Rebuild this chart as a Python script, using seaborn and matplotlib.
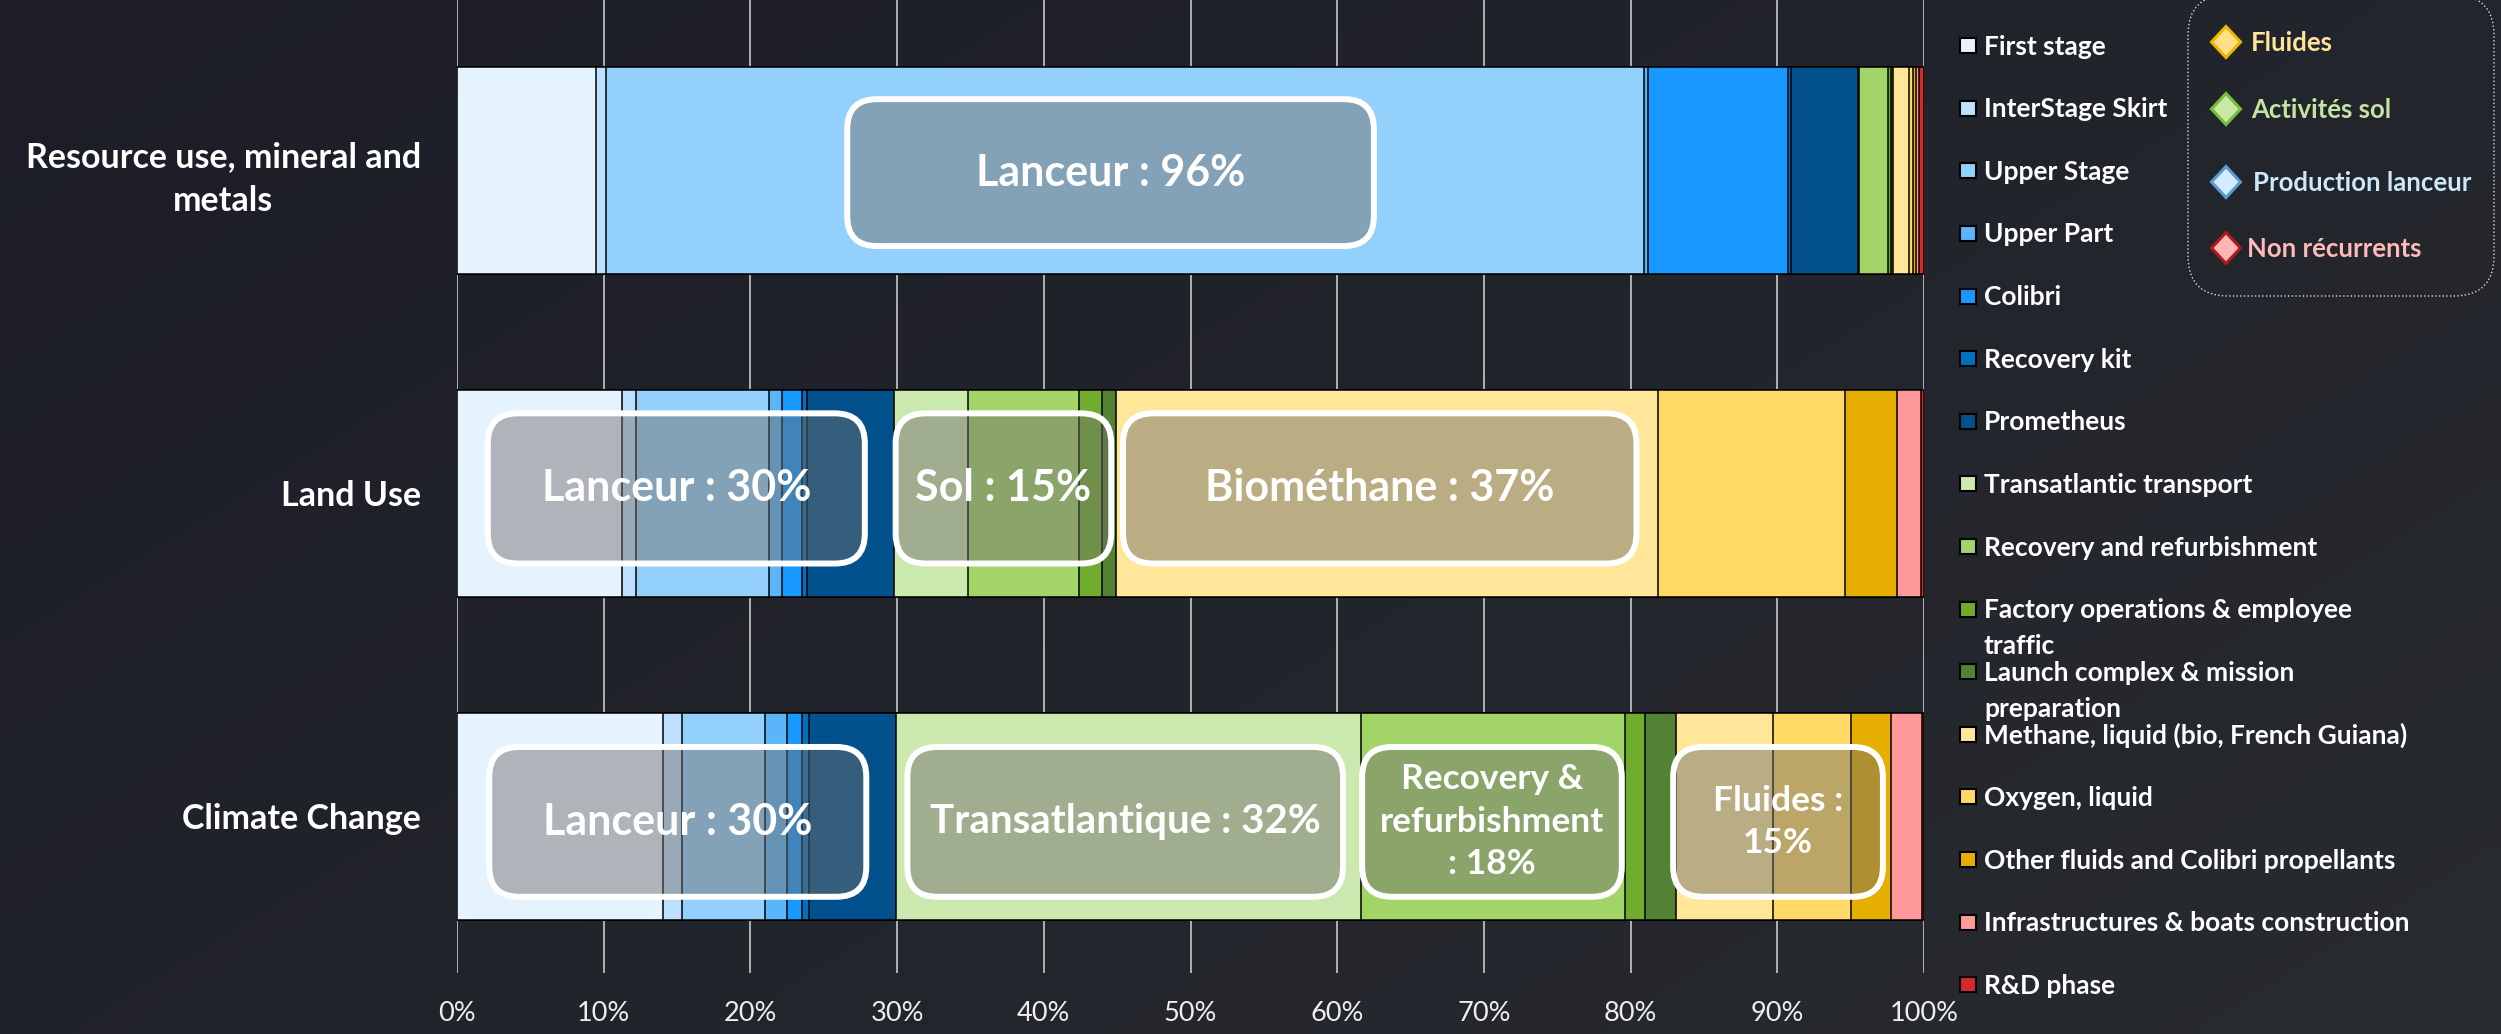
import numpy as np
import pandas as pd
import matplotlib
matplotlib.use("Agg")
import matplotlib.pyplot as plt
import seaborn as sns
from matplotlib.patches import FancyBboxPatch, Rectangle, Polygon

# ---------------- data ----------------
impacts = ["Resource use, mineral and\nmetals", "Land Use", "Climate Change"]

components = [
    "First stage", "InterStage Skirt", "Upper Stage", "Upper Part", "Colibri",
    "Recovery kit", "Prometheus", "Transatlantic transport",
    "Recovery and refurbishment", "Factory operations & employee\ntraffic",
    "Launch complex & mission\npreparation", "Methane, liquid (bio, French Guiana)",
    "Oxygen, liquid", "Other fluids and Colibri propellants",
    "Infrastructures & boats construction", "R&D phase",
]
colors = [
    "#E5F3FF", "#BCE0FD", "#94D0FC", "#5BB5F9", "#1799FF",
    "#0070C0", "#02508C", "#CBE8AF",
    "#A2D468", "#70AD2F",
    "#548235", "#FFE699",
    "#FFD966", "#E6AF00",
    "#FF9999", "#D62A2A",
]

# shares (%) per component
resource_values = [9.45, 0.68, 70.77, 0.30, 9.50, 0.20, 4.60, 0.10,
                   1.97, 0.15, 0.16, 1.07, 0.32, 0.18, 0.23, 0.32]
land_values = [11.26, 0.91, 9.08, 0.87, 1.43, 0.29, 5.93, 5.09,
               7.51, 1.59, 0.93, 36.97, 12.74, 3.56, 1.64, 0.20]
climate_values = [14.05, 1.32, 5.61, 1.52, 1.00, 0.48, 5.97, 31.70,
                  17.96, 1.34, 2.15, 6.60, 5.35, 2.70, 2.09, 0.16]

x_ticks = [0, 10, 20, 30, 40, 50, 60, 70, 80, 90, 100]
x_tick_labels = ["0%", "10%", "20%", "30%", "40%", "50%", "60%", "70%", "80%", "90%", "100%"]

group_labels = ["Fluides", "Activités sol", "Production lanceur", "Non récurrents"]
group_fill = ["#FFE08A", "#C8E9A4", "#D4ECFF", "#FFB5B5"]
group_edge = ["#F2B600", "#78BE3C", "#5B9BD0", "#B01A1A"]
group_text = ["#FFE49A", "#C5E3A2", "#CDE7FB", "#FFBABA"]

# annotation boxes: impact index, x start %, x end %, text, font size
ann_impact = [0, 1, 1, 1, 2, 2, 2, 2]
ann_x0 = [26.6, 2.1, 29.9, 45.4, 2.2, 30.7, 61.7, 82.9]
ann_x1 = [62.5, 27.8, 44.6, 80.4, 27.9, 60.4, 79.4, 97.2]
ann_text = ["Lanceur : 96%", "Lanceur : 30%", "Sol : 15%", "Biométhane : 37%",
            "Lanceur : 30%", "Transatlantique : 32%",
            "Recovery &\nrefurbishment\n: 18%", "Fluides :\n15%"]
ann_size = [31, 31, 31, 31, 31, 29, 25.5, 25.5]
# vertical extent of the boxes relative to bar centre, per impact
box_top = [-0.221, -0.248, -0.215]
box_bottom = [0.234, 0.217, 0.249]

# ---------------- style ----------------
sns.set_theme(style="dark")
plt.rcParams["font.family"] = ["Lato", "DejaVu Sans"]

W, H = 2501, 1034
fig = plt.figure(figsize=(W / 100, H / 100), dpi=100)

# background gradient
bg = fig.add_axes([0, 0, 1, 1], zorder=-10)
c0 = np.array([0x1C, 0x1D, 0x28]) / 255
c1 = np.array([0x28, 0x2B, 0x2F]) / 255
gx, gy = np.meshgrid(np.linspace(0, 1, 200), np.linspace(0, 1, 100))
t = (0.6 * gx + 0.4 * gy)[..., None]
bg.imshow(c0 * (1 - t) + c1 * t, extent=[0, 1, 0, 1], aspect="auto", interpolation="bilinear")
bg.set_xlim(0, 1); bg.set_ylim(0, 1)
bg.axis("off")

# data frame and cumulative sums
df = pd.DataFrame({
    "impact": np.repeat(impacts, len(components)),
    "component": components * len(impacts),
    "value": resource_values + land_values + climate_values,
})
wide = df.pivot(index="impact", columns="component", values="value").loc[impacts, components]
cum = wide.cumsum(axis=1)

ax = fig.add_axes([457 / W, 1 - 973 / H, (1924 - 457) / W, 973 / H])
ax.patch.set_alpha(0)
for i in reversed(range(len(components))):
    sns.barplot(x=cum.iloc[:, i].values, y=impacts, orient="h", color=colors[i],
                saturation=1, width=0.64, edgecolor="black", linewidth=1.1, ax=ax)

ax.set_xlim(0, 100)
ax.set_ylim(2.485, -0.528)
ax.set_xlabel("")
ax.set_ylabel("")
for s in ax.spines.values():
    s.set_visible(False)
ax.set_axisbelow(True)
ax.xaxis.grid(True, color="#D6D6D6", linewidth=1.1)
ax.yaxis.grid(False)

ax.set_xticks(x_ticks)
ax.set_xticklabels(x_tick_labels, color="#EEEEEE", fontsize=19.5)
ax.tick_params(axis="x", length=0, pad=20)
ax.set_yticks(range(len(impacts)))
ax.set_yticklabels(impacts, color="white", fontsize=24.5, fontweight="bold", ha="right",
                   multialignment="center", linespacing=1.45)
ax.tick_params(axis="y", length=0, pad=26)

# annotation boxes
xpp = 100 / 1467.0
ypp = 1 / 323.0
for imp, x0, x1, txt, fs in zip(ann_impact, ann_x0, ann_x1, ann_text, ann_size):
    y0, y1 = imp + box_top[imp], imp + box_bottom[imp]
    box = FancyBboxPatch((x0, y0), x1 - x0, y1 - y0,
                         boxstyle=f"round,pad=0,rounding_size={30 * xpp:.3f}",
                         mutation_aspect=ypp / xpp,
                         fc=(0.44, 0.43, 0.42, 0.47), ec="white", lw=4.3, zorder=5)
    ax.add_patch(box)
    ax.text((x0 + x1) / 2, (y0 + y1) / 2, txt, ha="center", va="center", fontsize=fs,
            fontweight="bold", color="white", zorder=6, linespacing=1.4)

# overlay for legends (pixel coordinates)
ov = fig.add_axes([0, 0, 1, 1], zorder=10)
ov.set_xlim(0, W)
ov.set_ylim(H, 0)
ov.axis("off")
ov.patch.set_alpha(0)

for k, (name, col) in enumerate(zip(components, colors)):
    y = 45.7 + 62.6 * k
    ov.add_patch(Rectangle((1960, y - 7.5), 16, 15, fc=col, ec="black", lw=1.5))
    for j, line in enumerate(name.split("\n")):
        ov.text(1984, y + 9 + 36 * j, line, va="baseline", ha="left", fontsize=19,
                fontweight="bold", color="white")

ov.add_patch(FancyBboxPatch((2188, -5), 306, 301, boxstyle="round,pad=0,rounding_size=40",
                            fc="none", ec="#DDDDDD", lw=1.0, ls=":"))
gy_pos = [42, 109, 182, 248]
gx_txt = [2251, 2251, 2253, 2247]
for lab, fcol, ecol, tcol, y, xt in zip(group_labels, group_fill, group_edge, group_text, gy_pos, gx_txt):
    cx = 2226
    ov.add_patch(Polygon([(cx, y - 15.5), (cx + 14.5, y), (cx, y + 15.5), (cx - 14.5, y)],
                         closed=True, fc=fcol, ec=ecol, lw=2.2))
    ov.text(xt, y + 9, lab, va="baseline", ha="left", fontsize=18.5, fontweight="bold", color=tcol)

fig.savefig("out.png", dpi=100, facecolor="#202229")
